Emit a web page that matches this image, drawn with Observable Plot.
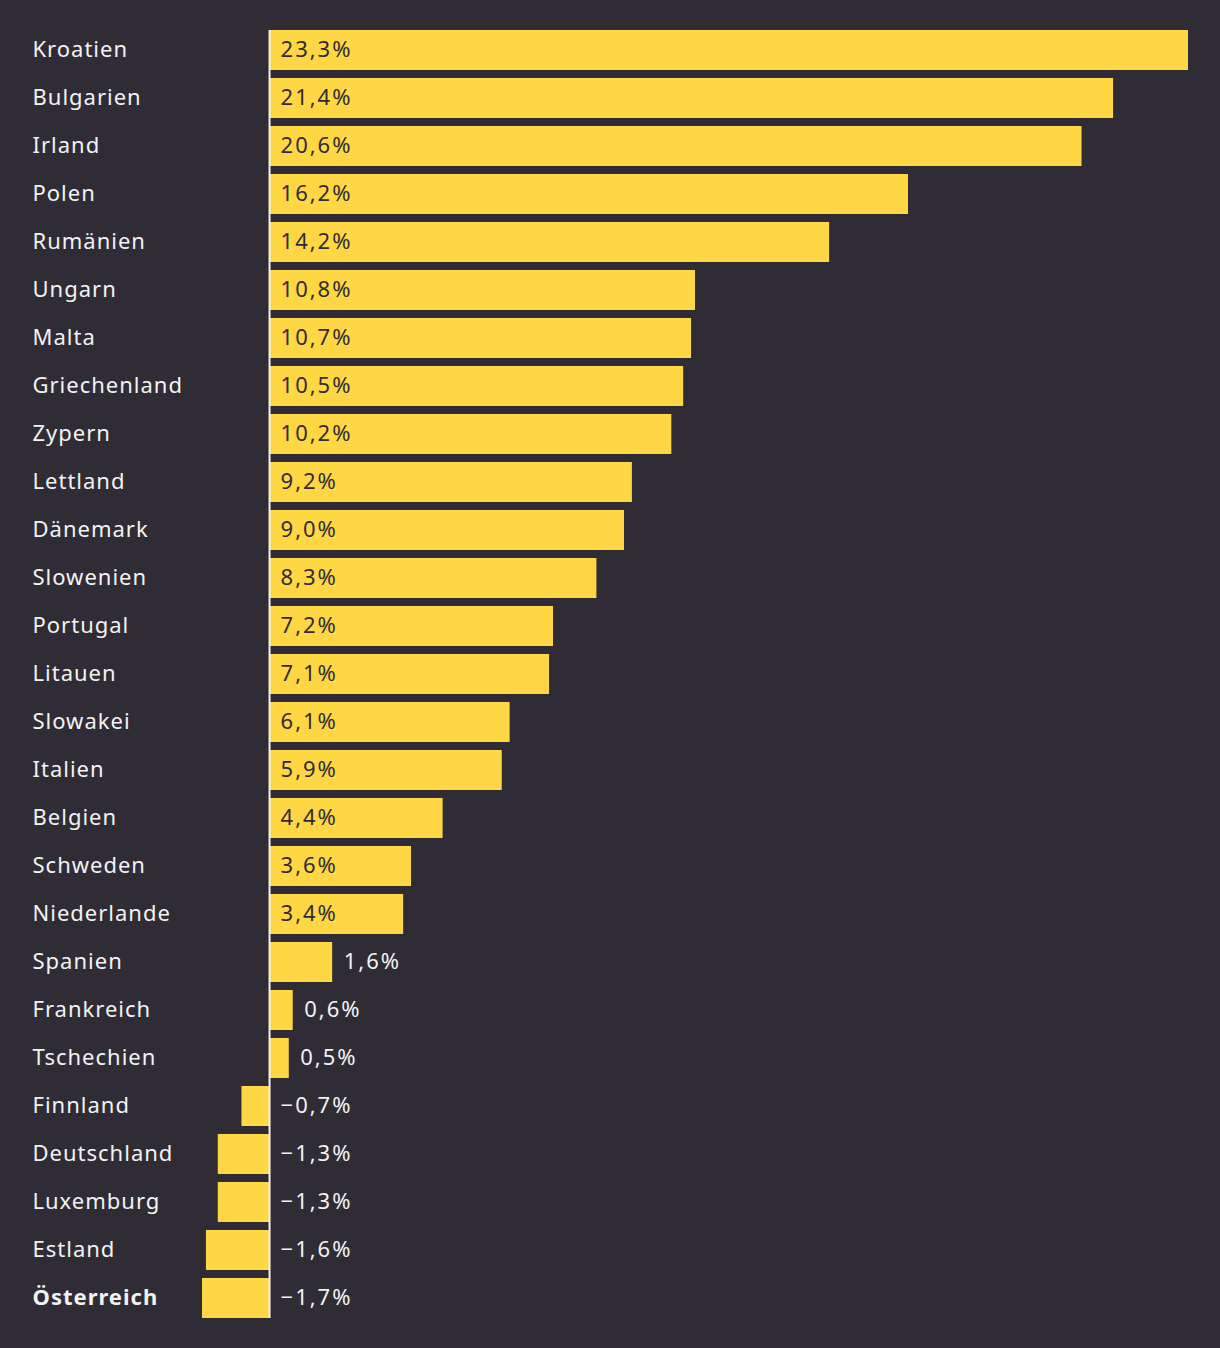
<!DOCTYPE html>
<html>
<head>
<meta charset="utf-8">
<script src="https://cdn.jsdelivr.net/npm/d3@7"></script>
<script src="https://cdn.jsdelivr.net/npm/@observablehq/plot@0.6"></script>
<style>
  html, body { margin: 0; padding: 0; background: #302c36; }
  #chart svg { display: block; }
  .names text { letter-spacing: 1px; }
  .vals text { letter-spacing: 2px; }
</style>
</head>
<body>
<div id="chart"></div>
<script>
const countries = ["Kroatien","Bulgarien","Irland","Polen","Rumänien","Ungarn","Malta","Griechenland","Zypern","Lettland","Dänemark","Slowenien","Portugal","Litauen","Slowakei","Italien","Belgien","Schweden","Niederlande","Spanien","Frankreich","Tschechien","Finnland","Deutschland","Luxemburg","Estland","Österreich"];
const values = [23.3,21.4,20.6,16.2,14.2,10.8,10.7,10.5,10.2,9.2,9.0,8.3,7.2,7.1,6.1,5.9,4.4,3.6,3.4,1.6,0.6,0.5,-0.7,-1.3,-1.3,-1.6,-1.7];
const highlight = "Österreich";

const data = countries.map((c, i) => ({country: c, value: values[i]}));
const fmt = v => (v < 0 ? "\u2212" : "") + Math.abs(v).toFixed(1).replace(".", ",") + "%";

const BG = "#302c36", BAR = "#ffd744", LIGHT = "#f2f2f2";
const inside = data.filter(d => d.value >= 3);
const outsidePos = data.filter(d => d.value > 0 && d.value < 3);
const negative = data.filter(d => d.value < 0);
const normalNames = data.filter(d => d.country !== highlight);
const boldNames = data.filter(d => d.country === highlight);

const chart = Plot.plot({
  width: 1220,
  height: 1348,
  marginLeft: 202,
  marginRight: 32,
  marginTop: 22,
  marginBottom: 22,
  style: {background: BG, fontFamily: "'Noto Sans', sans-serif", fontSize: "22px"},
  x: {domain: [-1.7, 23.3], axis: null},
  y: {domain: countries, axis: null, padding: 1/6},
  marks: [
    Plot.barX(data, {x: "value", y: "country", fill: BAR}),
    Plot.ruleX([0], {stroke: LIGHT, strokeWidth: 2, insetTop: 8, insetBottom: 8}),
    Plot.text(normalNames, {
      y: "country", text: "country", frameAnchor: "left", dx: -170, dy: -1, textAnchor: "start",
      fill: LIGHT, fontSize: 22, className: "names"
    }),
    Plot.text(boldNames, {
      y: "country", text: "country", frameAnchor: "left", dx: -170, dy: -1, textAnchor: "start",
      fill: LIGHT, fontSize: 22, fontWeight: "bold", className: "names"
    }),
    Plot.text(inside, {x: 0, y: "country", text: d => fmt(d.value), dx: 11, dy: -1, textAnchor: "start", fill: BG, fontSize: 22, className: "vals"}),
    Plot.text(outsidePos, {x: "value", y: "country", text: d => fmt(d.value), dx: 11, dy: -1, textAnchor: "start", fill: LIGHT, fontSize: 22, className: "vals"}),
    Plot.text(negative, {x: 0, y: "country", text: d => fmt(d.value), dx: 11, dy: -1, textAnchor: "start", fill: LIGHT, fontSize: 22, className: "vals"})
  ]
});
document.getElementById("chart").append(chart);
</script>
</body>
</html>
